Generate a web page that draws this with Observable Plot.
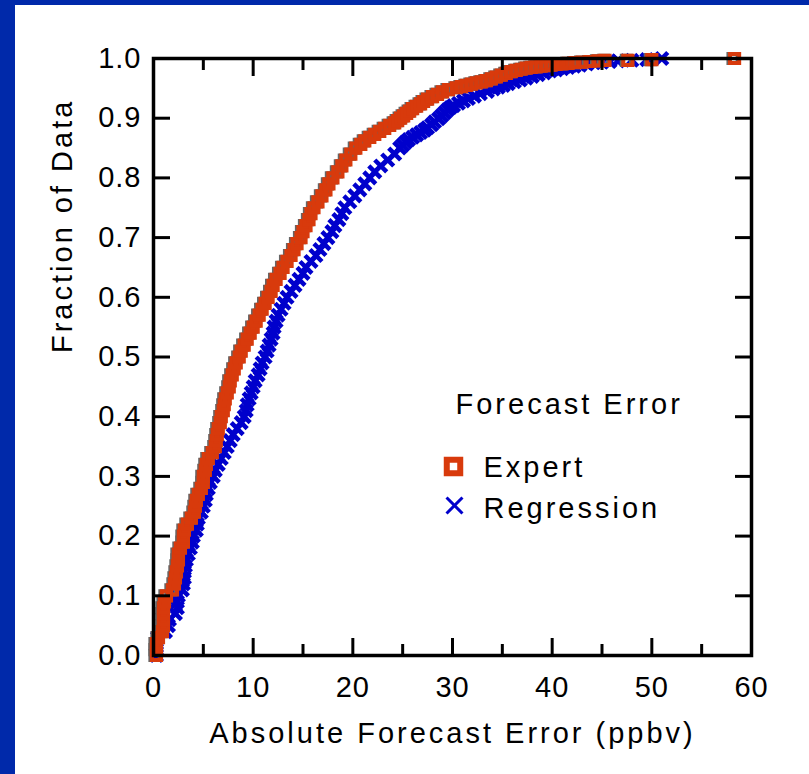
<!DOCTYPE html>
<html><head><meta charset="utf-8">
<script src="https://cdn.jsdelivr.net/npm/d3@7"></script>
<script src="https://cdn.jsdelivr.net/npm/@observablehq/plot@0.6"></script>
<style>
html,body{margin:0;padding:0;background:#fff;width:809px;height:774px;overflow:hidden}
#stripL{position:absolute;left:0;top:0;width:15px;height:774px;background:#0029aa}
#stripT{position:absolute;left:0;top:0;width:809px;height:5px;background:#0029aa}
#chart{position:absolute;left:0;top:0}
#chart svg text{letter-spacing:3px}
#chart svg .tk text{letter-spacing:1px}
</style></head><body>
<div id="stripL"></div><div id="stripT"></div><div id="chart"></div>
<script>
// [fraction of data, absolute forecast error (ppbv)]
const expertPoints = [
[0,0.3],[0.01,0.3],[0.02,0.3],[0.03,0.5],[0.04,0.9],[0.05,1.0],[0.06,1.0],[0.07,1.0],[0.08,1.0],[0.09,1.1],
[0.10,1.3],[0.11,1.9],[0.12,2.1],[0.13,2.2],[0.14,2.3],[0.15,2.4],[0.16,2.5],[0.17,2.5],[0.18,2.7],[0.19,3.0],
[0.20,3.0],[0.21,3.1],[0.22,3.4],[0.23,3.8],[0.24,4.1],[0.25,4.2],[0.26,4.3],[0.27,4.5],[0.28,4.8],[0.29,5.0],
[0.30,5.0],[0.31,5.2],[0.32,5.3],[0.33,5.5],[0.34,5.9],[0.35,6.2],[0.36,6.3],[0.37,6.4],[0.38,6.5],[0.39,6.7],
[0.40,6.8],[0.41,7.0],[0.42,7.1],[0.43,7.2],[0.44,7.4],[0.45,7.6],[0.46,7.7],[0.47,7.9],[0.48,8.1],[0.49,8.3],
[0.50,8.6],[0.51,8.8],[0.52,9.1],[0.53,9.4],[0.54,9.7],[0.55,10.0],[0.56,10.3],[0.57,10.6],[0.58,10.9],[0.59,11.2],
[0.60,11.5],[0.61,11.8],[0.62,12.0],[0.63,12.3],[0.64,12.7],[0.65,13.0],[0.66,13.4],[0.67,13.8],[0.68,14.1],[0.69,14.4],
[0.70,14.8],[0.71,15.0],[0.72,15.3],[0.73,15.6],[0.74,15.8],[0.75,16.1],[0.76,16.5],[0.77,16.9],[0.78,17.3],[0.79,17.6],
[0.80,18.0],[0.81,18.5],[0.82,18.9],[0.83,19.3],[0.84,19.8],[0.85,20.3],[0.856,20.8],[0.862,21.2],[0.868,21.7],[0.873,22.2],
[0.878,22.7],[0.883,23.2],[0.888,23.7],[0.892,24.2],[0.896,24.5],[0.900,24.8],[0.904,25.1],[0.908,25.4],[0.912,25.7],[0.916,26.0],
[0.920,26.4],[0.924,26.8],[0.928,27.1],[0.932,27.5],[0.936,28.0],[0.940,28.5],[0.944,29.0],[0.948,29.6],[0.951,30.4],[0.953,30.9],
[0.955,31.4],[0.957,31.9],[0.959,32.4],[0.961,32.9],[0.963,33.4],[0.966,33.9],[0.969,34.4],[0.972,34.9],[0.975,35.4],[0.978,35.9],
[0.980,36.4],[0.982,36.9],[0.984,37.4],[0.985,37.9],[0.986,38.4],[0.987,38.9],[0.988,39.4],[0.989,39.9],[0.990,40.4],[0.991,41.0],
[0.992,41.6],[0.993,42.3],[0.994,43.0],[0.995,43.8],[0.996,44.6],[0.997,45.3],[0.997,47.6],[0.998,50.0],[1.0,58.3]
];
const regressionPoints = [
[0,0.3],[0.01,0.3],[0.02,0.3],[0.03,0.4],[0.04,1.2],[0.05,1.5],[0.06,1.6],[0.07,2.2],[0.08,2.4],[0.09,2.4],
[0.10,2.5],[0.11,2.9],[0.12,3.0],[0.13,3.1],[0.14,3.1],[0.15,3.2],[0.16,3.3],[0.17,3.5],[0.18,3.7],[0.19,3.9],
[0.20,4.0],[0.21,4.3],[0.22,4.4],[0.23,4.5],[0.24,4.8],[0.25,5.0],[0.26,5.2],[0.27,5.3],[0.28,5.5],[0.29,5.7],
[0.30,6.0],[0.31,6.2],[0.32,6.5],[0.33,6.8],[0.34,7.1],[0.35,7.4],[0.36,7.7],[0.37,8.0],[0.38,8.4],[0.39,8.8],
[0.40,9.1],[0.41,9.3],[0.42,9.4],[0.43,9.6],[0.44,9.8],[0.45,10.0],[0.46,10.2],[0.47,10.5],[0.48,10.7],[0.49,10.9],
[0.50,11.2],[0.51,11.4],[0.52,11.6],[0.53,11.8],[0.54,12.0],[0.55,12.1],[0.56,12.3],[0.57,12.5],[0.58,12.8],[0.59,13.1],
[0.60,13.4],[0.61,13.8],[0.62,14.2],[0.63,14.6],[0.64,15.0],[0.65,15.3],[0.66,15.8],[0.67,16.3],[0.68,16.7],[0.69,17.1],
[0.70,17.5],[0.71,17.9],[0.72,18.2],[0.73,18.6],[0.74,18.9],[0.75,19.2],[0.76,19.7],[0.77,20.2],[0.78,20.7],[0.79,21.2],
[0.80,21.7],[0.81,22.2],[0.82,22.8],[0.83,23.5],[0.84,24.2],[0.85,24.7],[0.855,25.0],[0.860,25.3],[0.864,25.6],[0.868,26.0],
[0.872,26.4],[0.876,26.8],[0.880,27.2],[0.884,27.5],[0.889,27.9],[0.894,28.2],[0.899,28.6],[0.904,28.9],[0.909,29.2],[0.914,29.5],
[0.918,29.8],[0.921,30.1],[0.925,30.6],[0.929,31.1],[0.933,31.6],[0.937,32.2],[0.941,32.8],[0.945,33.5],[0.949,34.1],[0.952,34.6],
[0.955,35.1],[0.958,35.6],[0.961,36.2],[0.964,36.8],[0.967,37.4],[0.970,38.0],[0.973,38.6],[0.976,39.2],[0.979,39.8],[0.981,40.4],
[0.983,41.0],[0.985,41.6],[0.987,42.2],[0.989,42.8],[0.991,43.5],[0.993,44.2],[0.994,45.0],[0.995,45.8],[0.996,46.6],[0.997,48.0],
[0.998,49.5],[1.0,51.0]
];

const xMajorTicks = [0,10,20,30,40,50,60];
const xMinorTicks = [5,15,25,35,45,55];
const yTicks = [0,0.1,0.2,0.3,0.4,0.5,0.6,0.7,0.8,0.9,1.0];
const seriesNames = ["Expert","Regression"];
const legendTitle = "Forecast Error";
const xTitle = "Absolute Forecast Error (ppbv)";
const yTitle = "Fraction of Data";

const expert = expertPoints.map(([f,e])=>({error:e, fraction:f}));
const regression = regressionPoints.map(([f,e])=>({error:e, fraction:f}));

const red = "#d83a0c", blue = "#0000cc";

const plot = Plot.plot({
  width: 809, height: 774,
  marginLeft: 153, marginRight: 58, marginTop: 58, marginBottom: 119,
  x: {domain: [0,60]},
  y: {domain: [0,1]},
  style: {fontFamily: "'Liberation Sans', Arial, sans-serif", fontSize: "29px", background: "transparent", color: "black", overflow: "visible"},
  marks: [
    // data
    Plot.dot(regression, {x:"error", y:"fraction", symbol:"times", r:5.5, stroke:blue, strokeWidth:4.5}),
    Plot.dot(expert, {x:"error", y:"fraction", symbol:"square", r:5.2, stroke:"#666", strokeWidth:4, dx:-1.5, fill:"none"}),
    Plot.dot(expert, {x:"error", y:"fraction", symbol:"square", r:5.2, stroke:red, strokeWidth:4, fill:"none"}),
    // frame + ticks
    Plot.frame({stroke:"black", strokeWidth:3.5}),
    Plot.axisX(xMajorTicks, {anchor:"bottom", tickSize:-17, strokeWidth:3, fill:"none", label:null}),
    Plot.axisX(xMinorTicks, {anchor:"bottom", tickSize:-11, strokeWidth:3, fill:"none", label:null}),
    Plot.axisX(xMajorTicks, {anchor:"top", tickSize:-17, strokeWidth:3, fill:"none", label:null}),
    Plot.axisX(xMinorTicks, {anchor:"top", tickSize:-11, strokeWidth:3, fill:"none", label:null}),
    Plot.axisY(yTicks, {anchor:"left", tickSize:-17, strokeWidth:3, fill:"none", label:null}),
    Plot.axisY(yTicks, {anchor:"right", tickSize:-17, strokeWidth:3, fill:"none", label:null}),
    // tick labels
    Plot.axisX(xMajorTicks, {anchor:"bottom", tickSize:0, tickPadding:21, label:null, fontSize:29, className:"tk"}),
    Plot.axisY(yTicks, {anchor:"left", tickSize:0, tickPadding:12, label:null, tickFormat:d3.format(".1f"), fontSize:29, className:"tk"}),
    // axis titles
    Plot.text([xTitle], {frameAnchor:"bottom", text:d=>d, dy:67, lineAnchor:"top", fontSize:29}),
    Plot.text([yTitle], {frameAnchor:"left", text:d=>d, rotate:-90, dx:-91, dy:-4, lineAnchor:"middle", fontSize:29}),
    // legend
    Plot.text([legendTitle], {frameAnchor:"top-left", text:d=>d, dx:302, dy:335, textAnchor:"start", lineAnchor:"top", fontSize:29}),
    Plot.dot([seriesNames[0]], {frameAnchor:"top-left", dx:300, dy:408, symbol:"square", r:7.6, stroke:red, strokeWidth:6, fill:"none"}),
    Plot.dot([seriesNames[1]], {frameAnchor:"top-left", dx:301, dy:447, symbol:"times", r:7.3, stroke:blue, strokeWidth:3}),
    Plot.text([seriesNames[0]], {frameAnchor:"top-left", text:d=>d, dx:330, dy:398, textAnchor:"start", lineAnchor:"top", fontSize:29}),
    Plot.text([seriesNames[1]], {frameAnchor:"top-left", text:d=>d, dx:330, dy:439, textAnchor:"start", lineAnchor:"top", fontSize:29})
  ]
});
document.getElementById("chart").appendChild(plot);
</script>
</body></html>
